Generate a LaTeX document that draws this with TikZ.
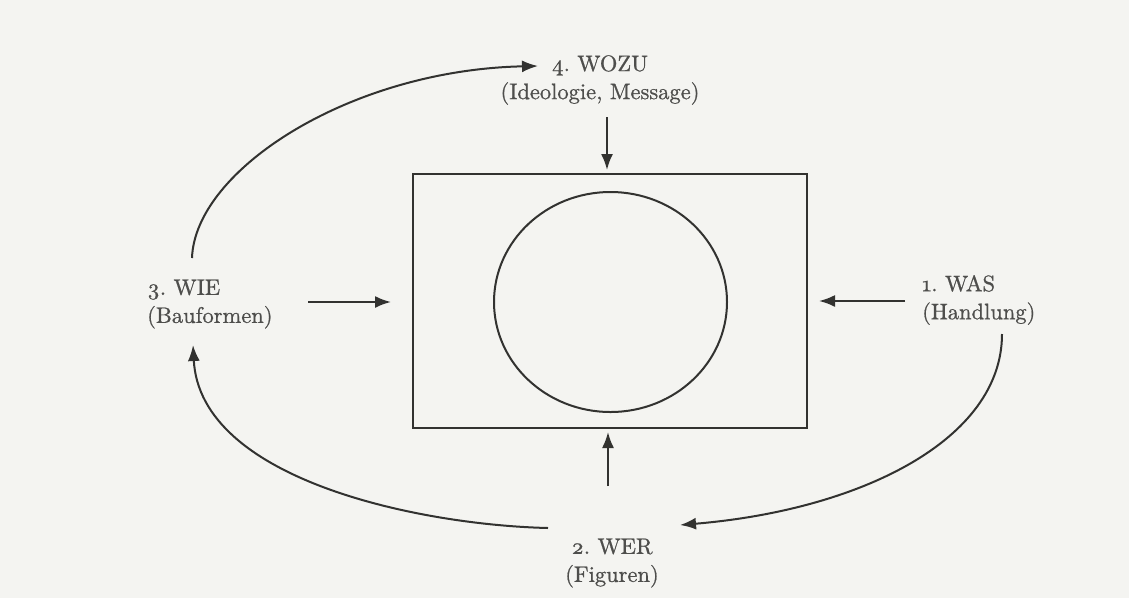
\documentclass[tikz,border=0pt]{standalone}
\usepackage{fontspec}
\setmainfont{lmroman10-regular}[Extension=.otf, BoldFont=lmroman10-bold, Numbers=OldStyle, FakeBold=0.8]
\usetikzlibrary{arrows.meta,shapes.geometric,calc}
\definecolor{paper}{RGB}{244,244,241}
\definecolor{ink}{RGB}{50,50,48}
\definecolor{txt}{RGB}{78,78,76}
\tikzset{
  lbl/.style={inner sep=0pt, text=txt, font=\fontsize{22.5}{28}\selectfont\frenchspacing},
  arr/.style={draw=ink, line width=2pt, -{Latex[length=16pt,width=12pt]}},
  frame/.style={draw=ink, line width=2pt}
}
\begin{document}
\begin{tikzpicture}[x=1pt,y=-1pt]
\fill[paper] (0,0) rectangle (1129,598);
\useasboundingbox (0,0) rectangle (1129,598);
% central box and circle
\node[frame, minimum width=394pt, minimum height=254pt, inner sep=0pt] (box) at (610,301) {};
\node[frame, ellipse, minimum width=233pt, minimum height=220pt, inner sep=0pt] (core) at (610.5,302) {};
% labels
\node[lbl, align=center] (wozu) at (600,80) {4. WOZU\\(Ideologie, Message)};
\node[lbl, align=center] (wer) at (612,563) {2. WER\\(Figuren)};
\node[lbl, align=left, anchor=west] (wie) at (147,304) {3. WIE\\(Bauformen)};
\node[lbl, align=left, anchor=west] (was) at (922,300) {1. WAS\\(Handlung)};
% straight arrows into the box
\coordinate (dTop) at (607,117);
\coordinate (uBot) at (608,486);
\coordinate (lSt) at (308,302);
\coordinate (rSt) at (905,301);
\draw[arr, shorten >=3pt] (dTop) -- (dTop |- box.north);
\draw[arr, shorten >=3pt] (uBot) -- (uBot |- box.south);
\draw[arr, shorten >=21pt] (lSt) -- (lSt -| box.west);
\draw[arr, shorten >=11pt] (rSt) -- (rSt -| box.east);
% cycle curves
\coordinate (wieOut) at (192,258);
\coordinate (wozuIn) at (538,66);
\coordinate (wasOut) at (1002,334);
\coordinate (werIn) at (680,525);
\coordinate (werOut) at (548,528);
\coordinate (wieIn) at (193,345);
\draw[arr] (wieOut) .. controls (195,170) and (350,70) .. (wozuIn);
\draw[arr] (wasOut) .. controls (1002,440) and (860,510) .. (werIn);
\draw[arr] (werOut) .. controls (420,525) and (200,480) .. (wieIn);
\end{tikzpicture}
\end{document}
